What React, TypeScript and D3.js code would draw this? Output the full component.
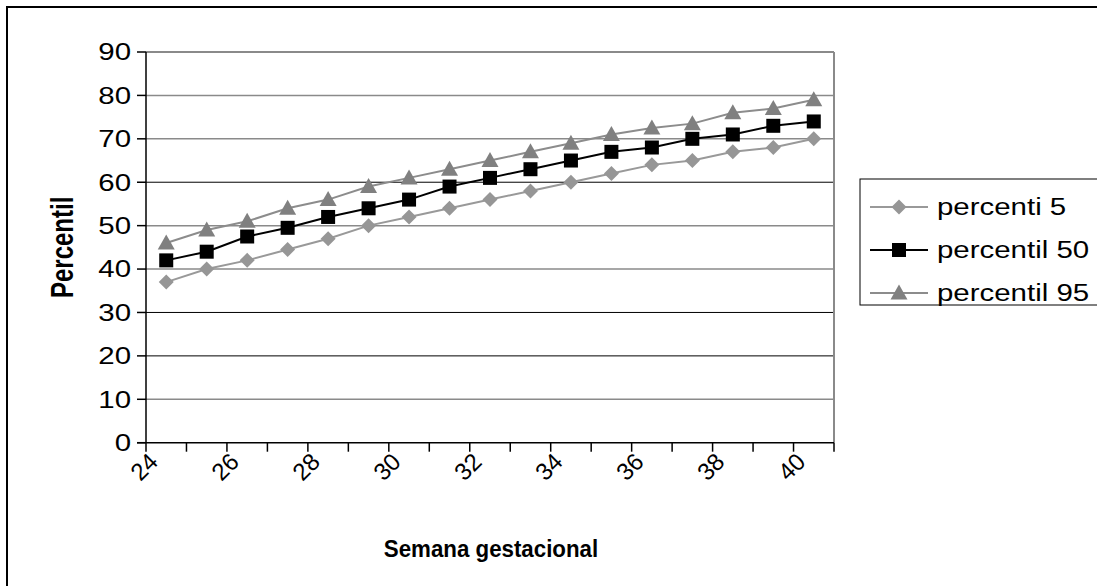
import React from "react";
import * as d3 from "d3";

const weeks = [24, 25, 26, 27, 28, 29, 30, 31, 32, 33, 34, 35, 36, 37, 38, 39, 40];
const p5 = [37, 40, 42, 44.5, 47, 50, 52, 54, 56, 58, 60, 62, 64, 65, 67, 68, 70];
const p50 = [42, 44, 47.5, 49.5, 52, 54, 56, 59, 61, 63, 65, 67, 68, 70, 71, 73, 74];
const p95 = [46, 49, 51, 54, 56, 59, 61, 63, 65, 67, 69, 71, 72.5, 73.5, 76, 77, 79];
const yTicks = [0, 10, 20, 30, 40, 50, 60, 70, 80, 90];
const xTickLabels = [24, 26, 28, 30, 32, 34, 36, 38, 40];
const seriesNames = ["percenti 5", "percentil 50", "percentil 95"];

const W = 1097;
const H = 586;
const left = 146;
const right = 834;
const top = 52;
const bottom = 442.7;
const FONT = "'Liberation Sans', Arial, sans-serif";
const STRETCH = 1.28;

const gridColor: Record<number, string> = {
  10: "#8a8a8a", 20: "#000", 30: "#000", 40: "#8a8a8a", 50: "#8a8a8a",
  60: "#000", 70: "#8a8a8a", 80: "#8a8a8a",
};

type Series = { name: string; values: number[]; color: string; marker: string; markerColor: string };

const series: Series[] = [
  { name: seriesNames[0], values: p5, color: "#999999", marker: "diamond", markerColor: "#969696" },
  { name: seriesNames[1], values: p50, color: "#000000", marker: "square", markerColor: "#000000" },
  { name: seriesNames[2], values: p95, color: "#8c8c8c", marker: "triangle", markerColor: "#808080" },
];

function Marker({ type, x, y, color }: { type: string; x: number; y: number; color: string }) {
  if (type === "diamond") {
    const s = 7.5;
    return <path d={`M${x},${y - s}L${x + s},${y}L${x},${y + s}L${x - s},${y}Z`} fill={color} />;
  }
  if (type === "square") {
    return <rect x={x - 7} y={y - 7} width={14} height={14} fill={color} />;
  }
  return <path d={`M${x},${y - 8.5}L${x + 8.5},${y + 6.5}L${x - 8.5},${y + 6.5}Z`} fill={color} />;
}

export default function App() {
  const x = d3.scaleBand<number>().domain(weeks).range([left, right]).padding(0);
  const y = d3.scaleLinear().domain([0, 90]).range([bottom, top]);
  const cx = (w: number) => (x(w) as number) + x.bandwidth() / 2;
  const line = d3
    .line<number>()
    .x((_, i) => cx(weeks[i]))
    .y((v) => y(v));

  const boundaries = weeks.map((w) => x(w) as number).concat([right]);

  return (
    <svg
      width={W}
      height={H}
      style={{ position: "absolute", left: 0, top: 0, background: "#fff" }}
      fontFamily={FONT}
    >
      <rect x={0} y={0} width={W} height={H} fill="#fff" />
      <rect x={7} y={7} width={1200} height={800} fill="none" stroke="#000" strokeWidth={2} />

      {/* gridlines */}
      {yTicks
        .filter((t) => t > 0 && t < 90)
        .map((t) => (
          <line key={t} x1={left} x2={right} y1={y(t)} y2={y(t)} stroke={gridColor[t]} strokeWidth={gridColor[t] === "#000" ? 1 : 1.5} />
        ))}
      {/* plot border top/right */}
      <line x1={left} x2={right} y1={y(90)} y2={y(90)} stroke="#8a8a8a" strokeWidth={2} />
      <line x1={right} x2={right} y1={top} y2={bottom} stroke="#8a8a8a" strokeWidth={2} />

      {/* axes */}
      <line x1={left} x2={left} y1={top} y2={bottom} stroke="#000" strokeWidth={1.5} />
      <line x1={left - 9} x2={right} y1={bottom} y2={bottom} stroke="#000" strokeWidth={1.5} />
      {yTicks.map((t) => (
        <line key={t} x1={left - 9} x2={left} y1={y(t)} y2={y(t)} stroke="#000" strokeWidth={1.5} />
      ))}
      {boundaries.map((b, i) => (
        <line key={i} x1={b} x2={b} y1={bottom} y2={bottom + 9} stroke="#000" strokeWidth={1.5} />
      ))}

      {/* y tick labels */}
      {yTicks.map((t) => (
        <text
          key={t}
          x={0}
          y={0}
          dy="0.36em"
          textAnchor="end"
          fontSize={23}
          fill="#000"
          transform={`translate(131 ${y(t)}) scale(${STRETCH} 1)`}
        >
          {t}
        </text>
      ))}
      {/* x tick labels */}
      {xTickLabels.map((w) => {
        const ax = cx(w) - 19;
        const ay = 451;
        return (
          <text
            key={w}
            x={ax}
            y={ay}
            textAnchor="end"
            fontSize={24}
            fill="#000"
            transform={`rotate(-45 ${ax} ${ay})`}
            dy="0.72em"
          >
            {w}
          </text>
        );
      })}

      {/* axis titles */}
      <text
        x={0}
        y={0}
        dy="0.36em"
        transform={`translate(62 ${(top + bottom) / 2}) rotate(-90) scale(1 ${STRETCH})`}
        textAnchor="middle"
        fontSize={24}
        fontWeight="bold"
        fill="#000"
      >
        Percentil
      </text>
      <text
        x={0}
        y={0}
        textAnchor="middle"
        fontSize={24}
        fontWeight="bold"
        fill="#000"
        transform="translate(491 557) scale(0.93 1)"
      >
        Semana gestacional
      </text>

      {/* series */}
      {series.map((s) => (
        <g key={s.name}>
          <path d={line(s.values) || ""} fill="none" stroke={s.color} strokeWidth={2} />
          {s.values.map((v, i) => (
            <Marker key={i} type={s.marker} x={cx(weeks[i])} y={y(v)} color={s.markerColor} />
          ))}
        </g>
      ))}

      {/* legend */}
      <rect x={860} y={179} width={300} height={126} fill="#fff" stroke="#000" strokeWidth={1} />
      {series.map((s, i) => {
        const ly = 207 + i * 43;
        return (
          <g key={s.name}>
            <line x1={870} x2={928} y1={ly} y2={ly} stroke={s.color} strokeWidth={2} />
            <Marker type={s.marker} x={899} y={ly} color={s.markerColor} />
            <text
              x={0}
              y={0}
              dy="0.36em"
              fontSize={23}
              fill="#000"
              transform={`translate(937 ${ly}) scale(${STRETCH} 1)`}
            >
              {s.name}
            </text>
          </g>
        );
      })}
    </svg>
  );
}
